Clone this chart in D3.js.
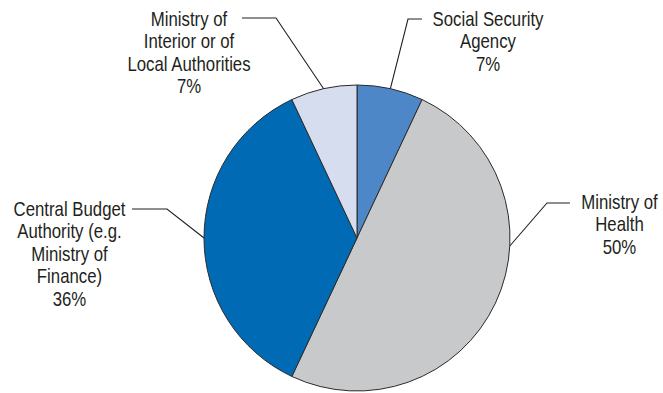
<!DOCTYPE html>
<html>
<head>
<meta charset="utf-8">
<script src="https://cdn.jsdelivr.net/npm/d3@7/dist/d3.min.js"></script>
<style>
  html, body { margin: 0; padding: 0; background: #fff; }
  svg { display: block; }
  text { font-family: "Liberation Sans", Arial, sans-serif; fill: #231f20; }
</style>
</head>
<body>
<svg id="chart" width="663" height="393"></svg>
<script>
// Budget share by responsible body (percent)
const categories = [
  ["Social Security", "Agency"],
  ["Ministry of", "Health"],
  ["Central Budget", "Authority (e.g.", "Ministry of", "Finance)"],
  ["Ministry of", "Interior or of", "Local Authorities"]
];
const values = [7, 50, 36, 7];
const valueLabels = ["7%", "50%", "36%", "7%"];
const colors = ["#4d87c7", "#c8c9cb", "#006ab5", "#d6ddef"];

// Label placement: where the leader leaves the rim, its elbow and end, and the text block
const layout = [
  { anchorDeg: null, elbow: [408, 19], end: [422, 19], tx: 488, ty: 26 },
  { anchorDeg: 93,   elbow: [547, 203], end: [570, 203], tx: 619.5, ty: 209 },
  { anchorDeg: 270,  elbow: [167, 209], end: [132, 209], tx: 69.5, ty: 216 },
  { anchorDeg: null, elbow: [276, 18], end: [242, 18], tx: 189, ty: 26 }
];

const cx = 357, cy = 238, r = 153, lineH = 22.5;
const fontSize = 20, narrow = 0.84; // condensed face drawn by squeezing the regular sans

const svg = d3.select("#chart");
const g = svg.append("g").attr("transform", `translate(${cx},${cy})`);

const pie = d3.pie().value(d => d).sort(null);
const arcs = pie(values);
const arc = d3.arc().innerRadius(0).outerRadius(r);

g.selectAll("path.slice")
  .data(arcs)
  .join("path")
  .attr("class", "slice")
  .attr("d", arc)
  .attr("fill", (d, i) => colors[i])
  .attr("stroke", "#2b2b2b")
  .attr("stroke-width", 1)
  .attr("stroke-linejoin", "round");

// Leader lines and labels
arcs.forEach((d, i) => {
  const L = layout[i];
  const a = L.anchorDeg == null ? (d.startAngle + d.endAngle) / 2 : L.anchorDeg * Math.PI / 180;
  const sx = cx + r * Math.sin(a), sy = cy - r * Math.cos(a);
  svg.append("polyline")
    .attr("points", [[sx, sy], L.elbow, L.end].map(p => p.join(",")).join(" "))
    .attr("fill", "none")
    .attr("stroke", "#231f20")
    .attr("stroke-width", 1.1);

  const t = svg.append("text")
    .attr("transform", `translate(${L.tx},${L.ty}) scale(${narrow},1)`)
    .attr("text-anchor", "middle")
    .attr("font-size", fontSize);
  categories[i].concat([valueLabels[i]]).forEach((line, k) => {
    t.append("tspan")
      .attr("x", 0)
      .attr("y", k * lineH)
      .text(line);
  });
});
</script>
</body>
</html>
